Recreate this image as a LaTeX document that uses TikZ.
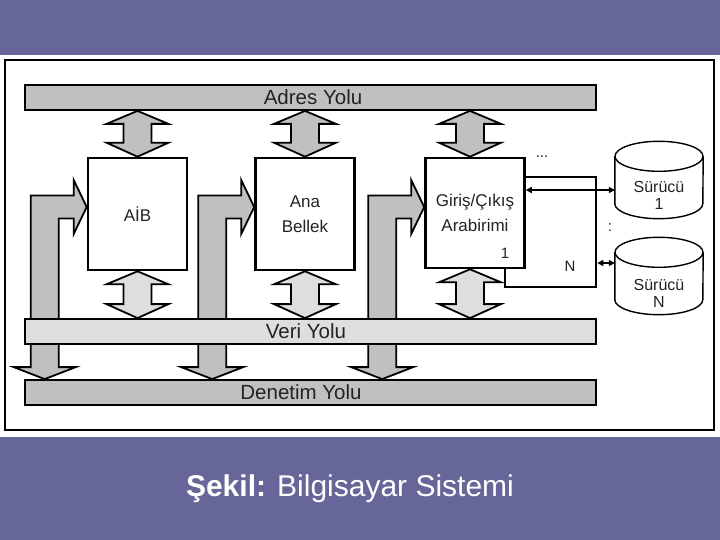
\documentclass[tikz,border=0pt]{standalone}
\usepackage{fontspec}
\setmainfont{Liberation Sans}
\usepackage{xcolor}
\definecolor{slideblue}{RGB}{102,102,153}
\definecolor{busgray}{RGB}{192,192,192}
\definecolor{buslight}{RGB}{222,222,222}
\definecolor{inkgray}{RGB}{35,35,35}
\usetikzlibrary{arrows.meta, calc, positioning}

% vertical two-way bus arrow: x from #1, top y from #2, bottom y from #3
\newcommand{\busarrow}[4]{%
  \draw[blockedge, fill=#4] let \p1=(#1), \p2=(#2), \p3=(#3) in
    (\x1,\y2) -- (\x1+31pt,\y2-13pt) -- (\x1+14pt,\y2-13pt) -- (\x1+14pt,\y3+14pt)
    -- (\x1+31pt,\y3+14pt) -- (\x1,\y3) -- (\x1-31pt,\y3+14pt) -- (\x1-14pt,\y3+14pt)
    -- (\x1-14pt,\y2-13pt) -- (\x1-31pt,\y2-13pt) -- cycle;}

% bent control arrow: tip at #1, lower tip on #2
\newcommand{\ctrlarrow}[2]{%
  \draw[blockedge, fill=busgray] let \p1=(#1), \p2=(#2) in
    (\x1,\y1) -- (\x1-13pt,\y1+27pt) -- (\x1-13pt,\y1+11.5pt) -- (\x1-56pt,\y1+11.5pt)
    -- (\x1-56pt,\y2+12pt) -- (\x1-73pt,\y2+12pt) -- (\x1-42pt,\y2) -- (\x1-11pt,\y2+12pt)
    -- (\x1-28pt,\y2+12pt) -- (\x1-28pt,\y1-11.5pt) -- (\x1-13pt,\y1-11.5pt)
    -- (\x1-13pt,\y1-27pt) -- cycle;}

% disk drum drawn over an empty node
\newcommand{\drum}[1]{%
  \draw[drumline, fill=white] ($(#1.north west)+(0,15)$) -- ($(#1.south west)+(0,-15)$)
    arc[start angle=180, end angle=360, x radius=44pt, y radius=15pt]
    -- ($(#1.north east)+(0,15)$);
  \draw[drumline] ($(#1.north)+(0,15)$) ellipse[x radius=44pt, y radius=15pt];}

\begin{document}
\begin{tikzpicture}[x=1pt, y=-1pt,
    busbar/.style={draw, line width=1.8pt, minimum width=571, minimum height=25, inner sep=0},
    buslabel/.style={font=\fontsize{20.5}{23}\selectfont, text=inkgray},
    unitbox/.style={draw, fill=white, line width=2.6pt, minimum width=99, minimum height=112,
      align=center, font=\fontsize{17}{25}\selectfont, text=inkgray},
    blockedge/.style={line width=1.8pt, line join=miter},
    drvbox/.style={minimum width=88, minimum height=77, inner sep=0},
    drumline/.style={line width=1.4pt},
    drvlabel/.style={align=center, font=\fontsize{16}{17}\selectfont, text=inkgray},
    marklabel/.style={font=\fontsize{15}{18}\selectfont, text=inkgray},
    ioline/.style={line width=1.6pt, {Triangle[length=6pt,width=6pt]}-{Triangle[length=6pt,width=6pt]}}]

  % slide background
  \useasboundingbox (0,0) rectangle (720,540);
  \fill[slideblue] (0,0) rectangle (720,540);
  \fill[white] (0,55) rectangle (720,437);
  \draw[line width=1.5pt] (5,60) rectangle (714,430);

  % buses
  \node[busbar, fill=busgray] (adres) at (310.5,97.5) {};
  \node[buslabel] (adreslbl) at (313,97) {Adres Yolu};
  \node[busbar, fill=busgray] (denetim) at (310.5,392.5) {};
  \node[buslabel] (denetimlbl) at (301,392) {Denetim Yolu};

  % units (N box sits behind the first interface)
  \node[unitbox, minimum width=91, minimum height=110] (nbox) at (550.5,232) {};
  \node[unitbox] (aib) at (137.5,214) {AİB};
  \node[unitbox] (ana) at (305,214) {Ana\\Bellek};
  \node[unitbox, minimum height=110] (gck) at (475,213) {Giriş/Çıkış\\Arabirimi};
  \node[marklabel] (gcknum) at (505,253) {1};
  \node[marklabel] (nboxnum) at (570,266) {N};

  % control lines
  \ctrlarrow{[yshift=7pt]aib.west}{denetim.north}
  \ctrlarrow{[yshift=7pt]ana.west}{denetim.north}
  \ctrlarrow{[yshift=6pt]gck.west}{denetim.north}

  % data bus over the control shafts
  \node[busbar, fill=buslight] (veri) at (310.5,331.5) {};
  \node[buslabel] (verilbl) at (306,331) {Veri Yolu};

  % address and data arrows
  \foreach \u/\dx in {aib/0, ana/0, gck/-5} {
    \busarrow{[xshift=\dx pt]\u.north}{adres.south}{\u.north}{busgray}
    \busarrow{[xshift=\dx pt]\u.south}{\u.south}{veri.north}{buslight}
  }

  % drives
  \node[drvbox] (drv1) at (659,180) {};
  \drum{drv1}
  \node[drvlabel] (drv1lbl) at (659,195) {Sürücü\\1};
  \node[drvbox] (drvN) at (659,276) {};
  \drum{drvN}
  \node[drvlabel] (drvNlbl) at (659,293) {Sürücü\\N};

  \node[marklabel] (iodots) at (542,157) {...};
  \node[marklabel] (drvdots) at (610,228) {:};

  % drive links
  \coordinate (io1) at ([yshift=23pt]gck.east);
  \draw[ioline] (io1) -- (io1 -| drv1.west);
  \coordinate (ioN) at ([yshift=-31pt]nbox.east);
  \draw[ioline] (ioN) -- (ioN -| drvN.west);

  % caption
  \node[font=\fontsize{30}{36}\selectfont, text=white] (caption) at (350,489)
    {\textbf{Şekil:} Bilgisayar Sistemi};
\end{tikzpicture}
\end{document}
